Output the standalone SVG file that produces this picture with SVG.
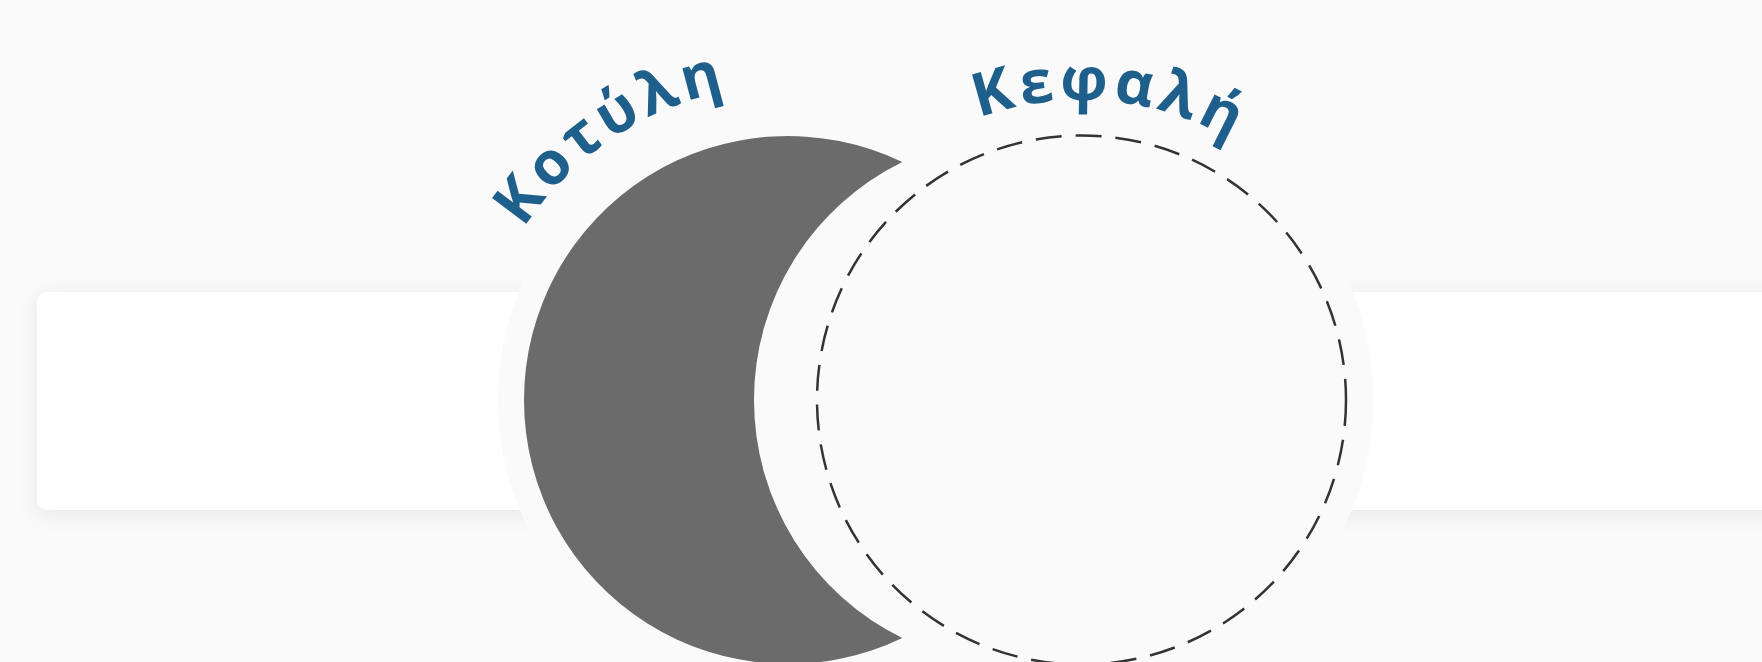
<svg xmlns="http://www.w3.org/2000/svg" width="1762" height="662" viewBox="0 0 1762 662">
<defs>
<filter id="shadow" x="-5%" y="-30%" width="110%" height="160%">
<feDropShadow dx="0" dy="4" stdDeviation="10" flood-color="#000" flood-opacity="0.08"/>
</filter>
<path id="arcK" d="M 523.8 228.4 A 315 315 0 0 1 1060.8 242.5"/>
<path id="arcH" d="M 978.9 118.1 A 300 300 0 0 1 1376.9 347.9"/>
</defs>
<style>
.label{font-family:"Open Sans","Noto Sans","DejaVu Sans",sans-serif;font-weight:700;font-size:60px;fill:#1f5f8b;letter-spacing:5px}
.halo{fill:#fafafa}
</style>
<rect width="1762" height="662" fill="#fafafa"/>
<g id="card"><rect x="37" y="292" width="1800" height="218" rx="10" fill="#fff" filter="url(#shadow)"/></g>
<g id="halos">
<circle class="halo" cx="788" cy="400" r="290"/>
<circle class="halo" cx="1081.5" cy="400" r="292"/>
</g>
<g id="kotyli">
<path d="M 902.35 162.05 A 264 264 0 1 0 902.35 637.95 A 265 265 0 0 1 902.35 162.05 Z" fill="#6b6b6b"/>
<text class="label"><textPath href="#arcK">Κοτύλη</textPath></text>
</g>
<g id="kefali">
<circle cx="1081.5" cy="400" r="264.5" fill="none" stroke="#333" stroke-width="2.5" stroke-dasharray="26 14"/>
<text class="label"><textPath href="#arcH">Κεφαλή</textPath></text>
</g>
<g id="connectors"></g>
</svg>
